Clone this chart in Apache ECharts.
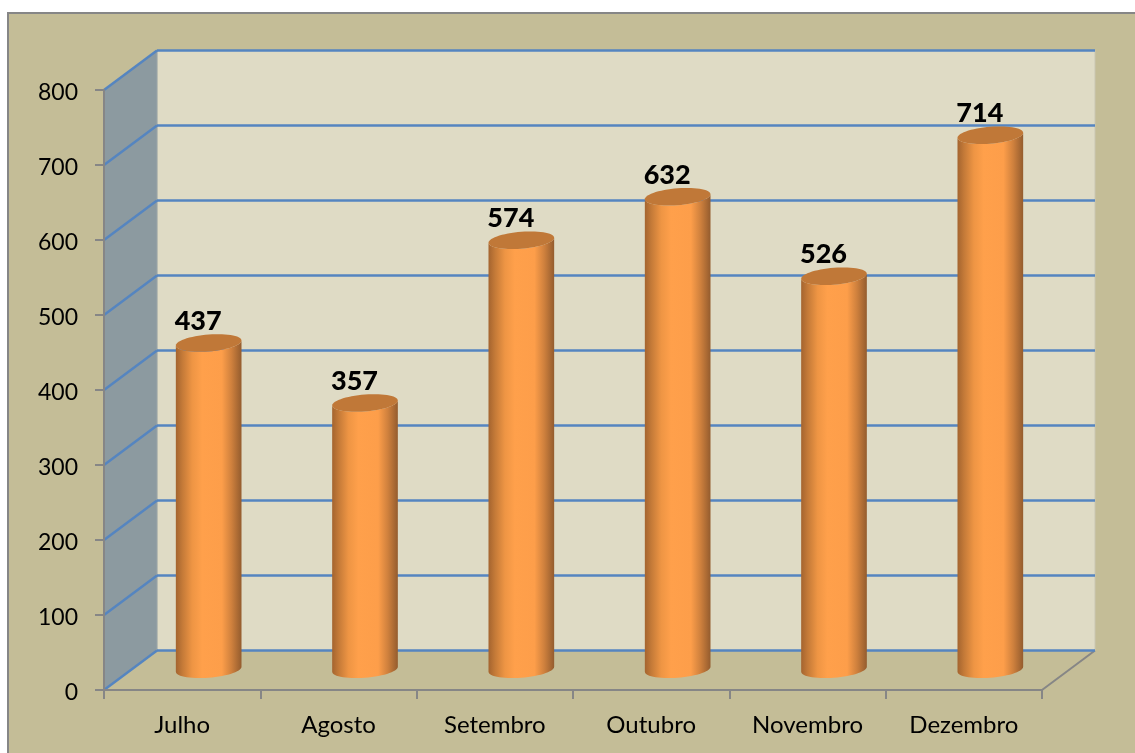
<!DOCTYPE html>
<html>
<head>
<meta charset="utf-8">
<style>
  html, body { margin: 0; padding: 0; background: #fff; }
  #chart { width: 1135px; height: 753px; }
</style>
<script src="https://cdn.jsdelivr.net/npm/echarts@6/dist/echarts.min.js"></script>
</head>
<body>
<div id="chart"></div>
<script>
const months = ["Julho", "Agosto", "Setembro", "Outubro", "Novembro", "Dezembro"];
const values = [437, 357, 574, 632, 526, 714];
const gridTicks = [100, 200, 300, 400, 500, 600, 700, 800];
const floorTick = [0];

// fake 3d: offset of the back wall from the front plane
const DEPTH_X = 53;
const DEPTH_Y = 39.5;
const BLUE = "#5585C0";
const GREY = "#868686";

var myChart = echarts.init(document.getElementById("chart"));

function lineEl(x1, y1, x2, y2, color, width) {
  return {
    type: "line",
    shape: { x1: x1, y1: y1, x2: x2, y2: y2 },
    style: { stroke: color, lineWidth: width },
  };
}

function renderWalls(params, api) {
  var c = params.coordSys;
  var xL = c.x, xR = c.x + c.width, yT = c.y, yB = c.y + c.height;
  return {
    type: "group",
    children: [
      {
        type: "rect",
        shape: { x: xL + DEPTH_X, y: yT - DEPTH_Y, width: c.width, height: c.height },
        style: { fill: "#DFDBC5", stroke: "#C9C6B2", lineWidth: 1 },
      },
      {
        type: "polygon",
        shape: {
          points: [
            [xL, yB],
            [xL + DEPTH_X, yB - DEPTH_Y],
            [xL + DEPTH_X, yT - DEPTH_Y],
            [xL, yT],
          ],
        },
        style: { fill: "#8C9AA0", stroke: "#9AA5A8", lineWidth: 1 },
      },
      lineEl(xR, yB, xR + DEPTH_X, yB - DEPTH_Y, GREY, 2),
    ],
  };
}

// horizontal lines run along the side wall and then the back wall
function renderGridLine(params, api) {
  var c = params.coordSys;
  var y = api.coord([0, api.value(0)])[1];
  var xBack = c.x + DEPTH_X;
  return {
    type: "group",
    children: [
      lineEl(c.x, y, xBack, y - DEPTH_Y, BLUE, 2.5),
      lineEl(xBack, y - DEPTH_Y, xBack + c.width, y - DEPTH_Y, BLUE, 2.5),
    ],
  };
}

function ellipsePoints(cx, cy, a, b, tilt, from, to, n) {
  var pts = [];
  for (var i = 0; i <= n; i++) {
    var t = from + ((to - from) * i) / n;
    pts.push([cx + a * Math.cos(t), cy + b * Math.sin(t) - tilt * Math.cos(t)]);
  }
  return pts;
}

function renderCylinder(params, api) {
  var idx = api.value(0);
  var val = api.value(1);
  var top = api.coord([idx, val]);
  var base = api.coord([idx, 0]);
  var cx = top[0] + DEPTH_X / 2;
  var yTop = top[1] - DEPTH_Y / 2 + 0.5;
  var yBase = base[1] - DEPTH_Y / 2 - 1;
  var a = api.size([1, 0])[0] * 0.21;
  var b = 8.5;
  var tilt = 2.5;
  var body = ellipsePoints(cx, yBase, a, b, tilt, 0, Math.PI, 30).concat(
    ellipsePoints(cx, yTop, a, b, tilt, Math.PI, 0, 30)
  );
  return {
    type: "group",
    children: [
      {
        type: "polygon",
        shape: { points: body },
        style: {
          fill: new echarts.graphic.LinearGradient(0, 0, 1, 0, [
            { offset: 0, color: "#A4642F" },
            { offset: 0.1, color: "#C47A38" },
            { offset: 0.25, color: "#EE9544" },
            { offset: 0.4, color: "#FFA04B" },
            { offset: 0.7, color: "#FD9E4A" },
            { offset: 0.85, color: "#CE803D" },
            { offset: 1, color: "#945C2E" },
          ]),
        },
      },
      {
        type: "polygon",
        shape: { points: ellipsePoints(cx, yTop, a, b, tilt, 0, Math.PI * 2, 60) },
        style: { fill: "#C07838" },
      },
      {
        type: "text",
        style: {
          x: cx - 10.5,
          y: yTop - 21.5,
          text: String(val),
          fill: "#000",
          font: "900 27px Lato",
          textAlign: "center",
          textVerticalAlign: "middle",
        },
      },
    ],
  };
}

var option = {
  animation: false,
  backgroundColor: "#fff",
  textStyle: { fontFamily: "Lato" },
  graphic: [
    {
      type: "rect",
      z: -10,
      shape: { x: 8, y: 13, width: 1140, height: 760 },
      style: { fill: "#C4BD97", stroke: GREY, lineWidth: 2 },
    },
  ],
  grid: { left: 104, right: 93, top: 90, bottom: 63 },
  xAxis: {
    type: "category",
    data: months,
    z: 5,
    axisLine: { onZero: false, lineStyle: { color: GREY, width: 2 } },
    axisTick: { show: true, alignWithLabel: false, length: 9, lineStyle: { color: GREY, width: 2 } },
    axisLabel: { color: "#000", fontSize: 24, fontFamily: "Lato", margin: 23 },
    splitLine: { show: false },
  },
  yAxis: {
    type: "value",
    min: 0,
    max: 800,
    interval: 100,
    z: 5,
    axisLine: { show: true, lineStyle: { color: GREY, width: 2 } },
    axisTick: { show: true, length: 9, lineStyle: { color: GREY, width: 2 } },
    axisLabel: {
      margin: 26,
      formatter: "{t|{value}}",
      rich: {
        t: { color: "#000", fontSize: 23, fontFamily: "Lato", padding: [5, 0, 0, 0] },
      },
    },
    splitLine: { show: false },
  },
  series: [
    {
      type: "custom",
      name: "walls",
      coordinateSystem: "cartesian2d",
      data: floorTick,
      renderItem: renderWalls,
      encode: { y: 0 },
      silent: true,
      z: 1,
    },
    {
      type: "custom",
      name: "grid",
      coordinateSystem: "cartesian2d",
      data: floorTick.concat(gridTicks),
      renderItem: renderGridLine,
      encode: { y: 0 },
      silent: true,
      clip: false,
      z: 2,
    },
    {
      type: "custom",
      name: "Valores",
      coordinateSystem: "cartesian2d",
      data: values.map(function (v, i) {
        return [i, v];
      }),
      renderItem: renderCylinder,
      encode: { x: 0, y: 1 },
      clip: false,
      z: 3,
    },
  ],
};

myChart.setOption(option);
window.addEventListener("resize", function () {
  myChart.resize();
});
</script>
</body>
</html>
